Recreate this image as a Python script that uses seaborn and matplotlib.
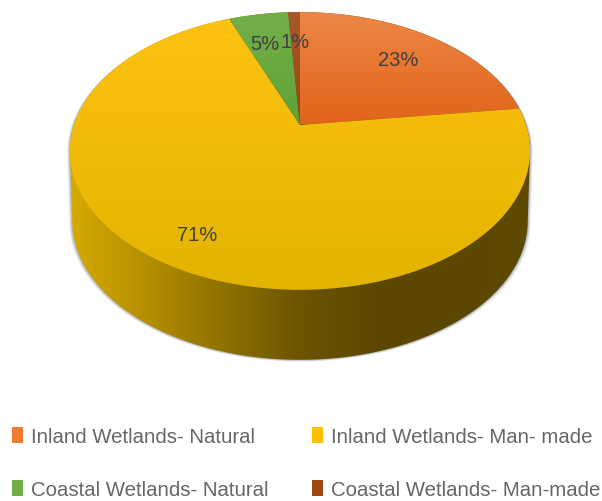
import numpy as np
import matplotlib
matplotlib.use("Agg")
import matplotlib.pyplot as plt
from matplotlib.colors import LinearSegmentedColormap
from matplotlib.patches import Patch, Polygon
import seaborn as sns

# Share of wetland area by class
categories = ["Inland Wetlands- Natural", "Inland Wetlands- Man- made",
              "Coastal Wetlands- Natural", "Coastal Wetlands- Man-made"]
shares = [23, 71, 5, 1]
legend_colors = ["#ED7D31", "#FFC000", "#70AD47", "#9E480E"]
top_shades = [("#EE8748", "#E0651A"), ("#FFC312", "#E2B300"),
              ("#74B04A", "#5FA236"), ("#A9582F", "#98440F")]
label_spots = [(398, 60), (197, 236), (265, 45), (295, 42)]

sns.set_theme(style="white")
plt.rcParams["font.family"] = ["Liberation Sans", "DejaVu Sans"]

# Perspective applied to the unit disc of the pie
CX, CY, DEPTH = 300, 126, 70
SPREAD_X, SPREAD_Y, TILT = 226, 134, 0.187


def project(u, v):
    d = 1 + TILT * v
    return CX + SPREAD_X * u / d, CY - SPREAD_Y * v / d


def arc(start, stop, n=200):
    a = np.radians(90 - 360 * np.linspace(start, stop, n))
    return project(np.cos(a), np.sin(a))


def gradient(ax, colors, extent, vertical, clip):
    ramp = np.linspace(0, 1, 256)
    ramp = ramp[:, None] if vertical else ramp[None, :]
    cmap = LinearSegmentedColormap.from_list("ramp", colors)
    im = ax.imshow(ramp, cmap=cmap, extent=extent, origin="upper", aspect="auto", zorder=clip.get_zorder())
    ax.add_patch(clip)
    clip.set_visible(False)
    im.set_clip_path(clip)


fig = plt.figure(figsize=(6.02, 5.02), dpi=100)
ax = fig.add_axes([0, 0, 1, 1])

# Full rim of the top face, rotated so the outline starts at its leftmost point
rim_x, rim_y = arc(0, 1, 720)
rim_x, rim_y = rim_x[:-1], rim_y[:-1]
left = int(np.argmin(rim_x))
rim_x, rim_y = np.roll(rim_x, -left), np.roll(rim_y, -left)
right = int(np.argmax(rim_x))
low_x = CX + (rim_x - CX) * 0.99
low_y = rim_y + DEPTH

# Outline of the body: upper rim on top, lowered rim below
body = np.column_stack([
    np.r_[rim_x[:right + 1], low_x[right:], low_x[0]],
    np.r_[rim_y[:right + 1], low_y[right:], low_y[0]],
])

# Soft shadow along the lower edge
for grow, alpha in ((3.0, 0.10), (2.0, 0.16), (1.0, 0.25)):
    shadow = body + np.array([0, grow * 0.6])
    shadow[:, 0] = CX + (shadow[:, 0] - CX) * (1 + grow / 230)
    ax.add_patch(Polygon(shadow, closed=True, fc="#5A6070", ec="none", alpha=alpha, zorder=1))

# Side wall with horizontal shading
side_stops = ["#D6AA00", "#B48E00", "#8F7100", "#6C5400", "#5C4700", "#5C4700", "#5E4900"]
gradient(ax, side_stops, (70, 530, 502, 0), False, Polygon(body, closed=True, zorder=2))

# Top face, one slice per share
bounds = np.cumsum([0] + shares) / sum(shares)
for i, share in enumerate(shares):
    ex, ey = arc(bounds[i], bounds[i + 1], max(8, share * 8))
    slice_poly = np.column_stack([np.r_[CX, ex], np.r_[CY, ey]])
    gradient(ax, top_shades[i], (70, 530, 292, 10) if i == 1 else (70, 530, 125, 10), True,
             Polygon(slice_poly, closed=True, zorder=3 + i))
    ax.text(*label_spots[i], f"{share}%", ha="center", va="center", fontsize=14.5,
            color="#404040", zorder=10)

ax.set_xlim(0, 602)
ax.set_ylim(502, 0)
ax.axis("off")

# Two-column key below the pie
handles = [Patch(fc=c, ec="none") for c in legend_colors]
order = [0, 2, 1, 3]
ax.legend([handles[i] for i in order], [categories[i] for i in order], ncol=2, frameon=False,
          loc="lower left", bbox_to_anchor=(12 / 602, 2 / 502), borderaxespad=0, borderpad=0,
          fontsize=14.7, labelcolor="#666666", handlelength=0.55, handleheight=0.85,
          handletextpad=0.4, columnspacing=2.1, labelspacing=1.66)

fig.savefig("out.png", dpi=100)
